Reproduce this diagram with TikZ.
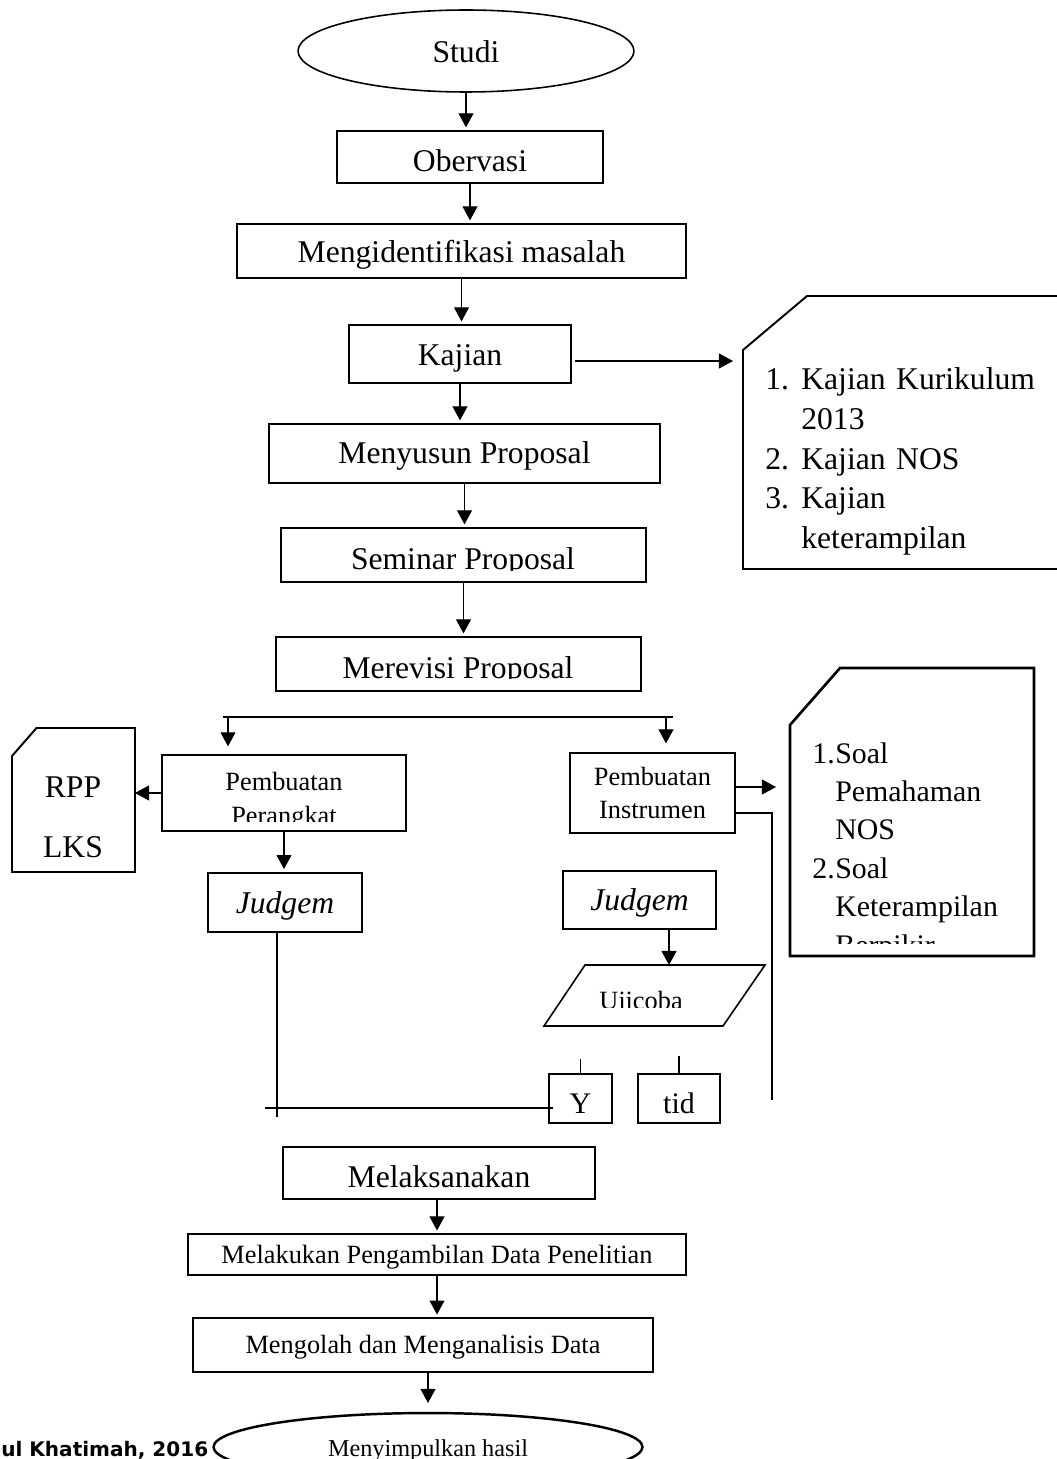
\documentclass[tikz,border=0pt]{standalone}
\usepackage{fontspec}
\setmainfont{Liberation Serif}
\newfontfamily\footfont{DejaVu Sans}
\usetikzlibrary{arrows.meta,shapes.geometric,calc}

\tikzset{
	box/.style = {draw, line width = 1.1pt, inner sep = 0pt, text height = 0.48cm, text depth = 0pt, font = \fontsize{18}{22}\selectfont},
	smallbox/.style = {draw, line width = 0.9pt, inner sep = 0pt, font = \fontsize{15}{19}\selectfont},
	judge/.style = {draw, line width = 1.5pt, inner sep = 0pt, text height = 0.42cm, text depth = 0pt, font = \fontsize{18}{22}\selectfont\itshape},
	bigtext/.style = {inner sep = 0pt, font = \fontsize{18}{22}\selectfont},
	smalltext/.style = {inner sep = 0pt, font = \fontsize{15}{19.9}\selectfont},
	listtext/.style = {inner sep = 0pt, align = left, font = \fontsize{18}{22.5}\selectfont},
	conn/.style = {line width = 0.6pt, -{Triangle[length = 8pt, width = 8.5pt]}, shorten > = 1.5pt},
	plain/.style = {line width = 0.6pt},
	doc/.style = {line width = 1.1pt},
}

\begin{document}
\begin{tikzpicture} [x = 0.02cm, y = -0.02cm]
	\useasboundingbox (0,0) rectangle (1056,1459);
	% main column
	\node [box, ellipse, line width = 0.9pt, minimum width = 6.72cm, minimum height = 1.64cm] (studi) at (466,51) {Studi};
	\node [box, text height = 0.6cm, minimum width = 5.32cm, minimum height = 1.04cm] (obs) at (470,157) {Obervasi};
	\node [box, minimum width = 8.98cm, minimum height = 1.08cm] (ident) at (461.5,251) {Mengidentifikasi masalah};
	\node [box, minimum width = 4.44cm, minimum height = 1.16cm] (kajian) at (460,354) {Kajian};
	\node [box, text height = 0.4cm, minimum width = 7.82cm, minimum height = 1.18cm] (susun) at (464.5,453.5) {Menyusun Proposal};
	\node [box, minimum width = 7.3cm, minimum height = 1.08cm] (seminar) at (463.5,555) {};
	\begin{scope}
		\clip (281,528) rectangle (646,570);
		\node [bigtext, anchor = base] (seminar-t) at (463,569) {Seminar Proposal};
	\end{scope}
	\node [box, minimum width = 7.3cm, minimum height = 1.08cm] (revisi) at (458.5,664) {};
	\begin{scope}
		\clip (276,637) rectangle (641,678);
		\node [bigtext, anchor = base] (revisi-t) at (458,678) {Merevisi Proposal};
	\end{scope}
	\draw [conn] (studi.south) -- (studi.south |- obs.north);
	\draw [conn] (obs.south) -- (obs.south |- ident.north);
	\draw [conn] (ident.south) -- (ident.south |- kajian.north);
	\draw [conn] (kajian.south) -- (kajian.south |- susun.north);
	\draw [conn] (susun.south) -- (susun.south |- seminar.north);
	\draw [conn] (seminar.south) -- (seminar.south |- revisi.north);

	% kajian list
	\draw [doc] (743,350) -- (807,296) -- (1090,296) -- (1090,569) -- (743,569) -- cycle;
	\node [listtext, anchor = base west, text width = 5.6cm] (kajlist) at (765,390) {\makebox[0.72cm][l]{1.}Kajian Kurikulum\\ \hspace*{0.72cm}2013\\ \makebox[0.72cm][l]{2.}Kajian NOS\\ \makebox[0.72cm][l]{3.}Kajian\\ \hspace*{0.72cm}keterampilan};
	\coordinate (kajin) at (733,361);
	\draw [conn, shorten > = 0pt, shorten < = 2pt] (kajian.east |- kajin) -- (kajin);

	% split
	\coordinate (split-a) at (223,717);
	\coordinate (split-b) at (673,717);
	\coordinate (split-l) at (228,717);
	\coordinate (split-r) at (666,717);
	\draw [plain] (split-a) -- (split-b);

	% left branch
	\node [smallbox, minimum width = 4.88cm, minimum height = 1.52cm] (perangkat) at (284,793) {};
	\begin{scope}
		\clip (162,755) rectangle (406,821);
		\node [smalltext, anchor = base, text width = 4.8cm, align = center] (perangkat-t) at (284,790) {Pembuatan\\Perangkat};
	\end{scope}
	\draw [doc] (12,756) -- (36.5,728) -- (135,728) -- (135,872) -- (12,872) -- cycle;
	\node [bigtext, anchor = base] (rpp) at (73,797) {RPP};
	\node [bigtext, anchor = base] (lks) at (73,857) {LKS};
	\coordinate (rppin) at (135,793);
	\node [judge, minimum width = 3.08cm, minimum height = 1.18cm] (judge1) at (285,902.5) {Judgem};
	\draw [conn, shorten > = 4.5pt] (split-l) -- (split-l |- perangkat.north);
	\draw [conn, shorten > = 0pt] (perangkat.west) -- (rppin);
	\draw [conn] (perangkat.south) -- (perangkat.south |- judge1.north);

	% right branch
	\node [smallbox, align = center, minimum width = 3.3cm, minimum height = 1.6cm] (instrumen) at (652.5,793) {Pembuatan\\Instrumen};
	\draw [doc, line width = 1.5pt] (790,725) -- (840,668) -- (1034,668) -- (1034,956) -- (790,956) -- cycle;
	\begin{scope}
		\clip (790,668) rectangle (1034,943);
		\node [listtext, anchor = base west, text width = 4.2cm, font = \fontsize{17}{21.9}\selectfont] (soal) at (812,763) {\makebox[0.46cm][l]{1.}Soal\\ \hspace*{0.46cm}Pemahaman\\ \hspace*{0.46cm}NOS\\ \makebox[0.46cm][l]{2.}Soal\\ \hspace*{0.46cm}Keterampilan\\ \hspace*{0.46cm}Berpikir};
	\end{scope}
	\coordinate (soalin) at (776,787);
	\node [judge, text height = 0.4cm, minimum width = 3.06cm, minimum height = 1.16cm] (judge2) at (639.5,900) {Judgem};
	\draw [line width = 0.9pt] (585,965) -- (765,965) -- (723,1026) -- (544,1026) -- cycle;
	\coordinate (ujiin) at (669,965);
	\begin{scope}
		\clip (544,965) rectangle (765,1007);
		\node [smalltext, anchor = base] (uji) at (641,1009) {Ujicoba};
	\end{scope}
	\draw [conn, shorten > = 5pt] (split-r) -- (split-r |- instrumen.north);
	\draw [conn, shorten > = 0pt] (instrumen.east |- soalin) -- (soalin);
	\draw [conn, shorten > = 0pt] (judge2.south -| ujiin) -- (ujiin);

	% yes / tidak
	\node [box, line width = 0.8pt, text height = 0.58cm, font = \fontsize{17}{20}\selectfont, minimum width = 1.26cm, minimum height = 0.98cm] (yes) at (580.5,1098.5) {Y};
	\node [box, line width = 0.8pt, text height = 0.58cm, font = \fontsize{17}{20}\selectfont, minimum width = 1.64cm, minimum height = 0.98cm] (tid) at (679,1098.5) {tid};
	\draw [plain] (yes.north) -- ++(0,-14);
	\draw [plain] (tid.north) -- ++(0,-17);
	\coordinate (low-l) at (277,1117);
	\coordinate (merge-l) at (265,1108);
	\draw [plain] (judge1.south -| low-l) -- (low-l);
	\draw [plain] (merge-l) -- ($(merge-l -| yes.west)+(5,0)$);
	\coordinate (back-top) at (772,813);
	\coordinate (back-bot) at (772,1100);
	\draw [plain] (instrumen.east |- back-top) -- (back-top) -- (back-bot);

	% bottom column
	\node [box, text height = 0.56cm, minimum width = 6.24cm, minimum height = 1.04cm] (laksana) at (439,1173) {Melaksanakan};
	\node [smallbox, line width = 1pt, text height = 0.34cm, text depth = 0pt, minimum width = 9.96cm, minimum height = 0.82cm] (ambil) at (437,1254.5) {Melakukan Pengambilan Data Penelitian};
	\node [smallbox, text height = 0.32cm, text depth = 0pt, minimum width = 9.2cm, minimum height = 1.08cm] (olah) at (423,1345) {Mengolah dan Menganalisis Data};
	\node [box, ellipse, line width = 1.4pt, text height = 0.36cm, minimum width = 8.58cm, minimum height = 1.36cm, font = \fontsize{13.8}{16}\selectfont] (simpul) at (428,1447) {Menyimpulkan hasil};
	\draw [conn] (laksana.south -| ambil) -- (ambil.north);
	\draw [conn] (ambil.south) -- (ambil.south |- olah.north);
	\draw [conn, shorten > = 5pt] (olah.south -| simpul) -- (simpul.north);
	\node [anchor = base west, inner sep = 0pt, font = \footfont\bfseries\fontsize{11.4}{13}\selectfont] (foot) at (1,1456) {ul Khatimah, 2016};
	\end{tikzpicture}
\end{document}
